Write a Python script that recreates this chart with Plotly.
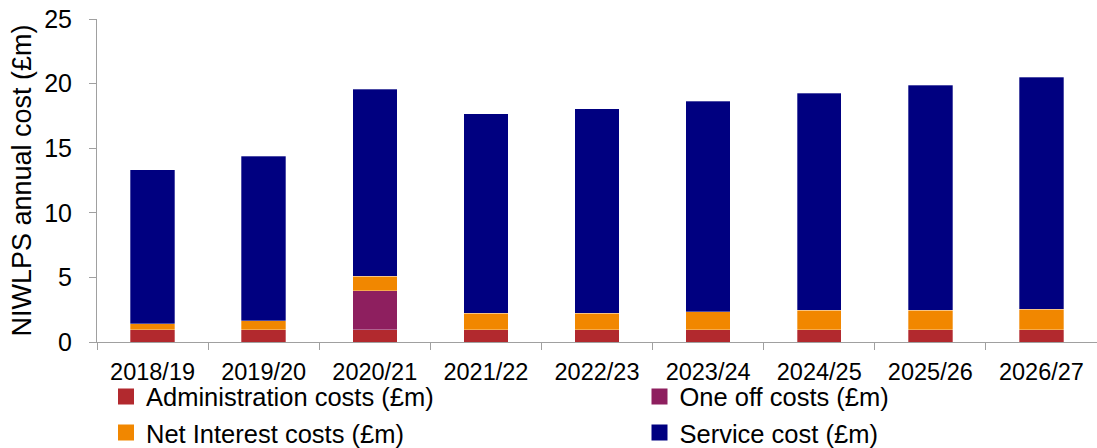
import plotly.graph_objects as go

categories = ["2018/19", "2019/20", "2020/21", "2021/22", "2022/23", "2023/24", "2024/25", "2025/26", "2026/27"]
admin = [0.93, 0.93, 0.93, 0.93, 0.93, 0.93, 0.93, 0.93, 0.93]
one_off = [0, 0, 3.05, 0, 0, 0, 0, 0, 0]
net_interest = [0.49, 0.72, 1.10, 1.31, 1.31, 1.42, 1.52, 1.52, 1.62]
service = [11.92, 12.72, 14.50, 15.44, 15.82, 16.30, 16.80, 17.44, 17.94]

names = ["Administration costs (£m)", "One off costs (£m)", "Net Interest costs (£m)", "Service cost (£m)"]
colors = ["#B2292E", "#8E1F5F", "#F18700", "#000080"]
values = [admin, one_off, net_interest, service]
legend_ids = ["legend", "legend2", "legend", "legend2"]

font = "Liberation Sans, Arial, sans-serif"

fig = go.Figure()
for name, vals, col in zip(names, values, colors):
    fig.add_trace(go.Bar(
        x=categories, y=vals, name=name, showlegend=False,
        marker=dict(color=col, line=dict(width=0.6, color="rgba(255,255,255,0.5)")),
    ))
# legend proxies (larger square symbols)
for name, col, lg in zip(names, colors, legend_ids):
    fig.add_trace(go.Scatter(
        x=[None], y=[None], mode="markers", name=name, legend=lg,
        legendgroup=name, showlegend=True,
        marker=dict(symbol="square", size=17, color=col),
    ))

leg_common = dict(
    orientation="v", traceorder="normal", yanchor="top", xanchor="left",
    font=dict(size=25.5, family=font), bgcolor="rgba(0,0,0,0)",
    tracegroupgap=0, itemwidth=30,
)
fig.update_layout(
    barmode="stack",
    bargap=0.6,
    width=1097, height=448,
    margin=dict(l=97, r=0, t=19, b=106, autoexpand=False),
    plot_bgcolor="white", paper_bgcolor="white",
    font=dict(family=font, size=23, color="black"),
    showlegend=True,
    legend=dict(x=0.009, y=-0.097, **leg_common),
    legend2=dict(x=0.5425, y=-0.097, **leg_common),
    xaxis=dict(
        showline=True, linecolor="#A0A0A0", linewidth=1,
        ticks="outside", tickson="boundaries", ticklen=7, tickcolor="#A0A0A0",
        tickfont=dict(size=23.5, family=font), ticklabelstandoff=9,
        showgrid=False, automargin=False,
    ),
    yaxis=dict(
        range=[0, 25], dtick=5,
        showline=True, linecolor="#A0A0A0", linewidth=1,
        ticks="outside", ticklen=7, tickcolor="#A0A0A0",
        tickfont=dict(size=25, family=font), ticklabelstandoff=12,
        showgrid=False, zeroline=False, automargin=False,
        title=dict(text="NIWLPS annual cost (£m)", font=dict(size=27, family=font), standoff=4),
    ),
)

fig.write_html("out.html")
